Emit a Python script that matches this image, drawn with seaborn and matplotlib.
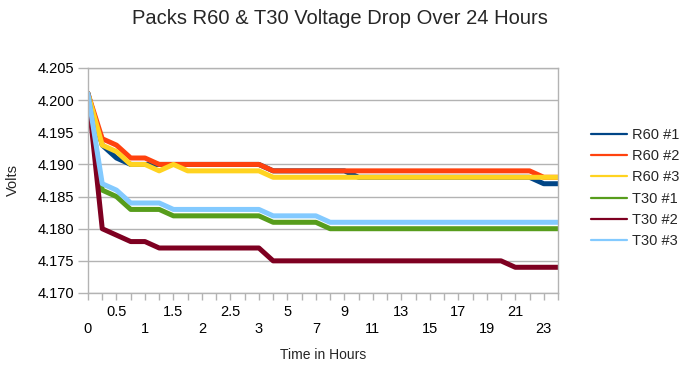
"""Packs R60 & T30 voltage drop over 24 hours -- line chart recreation."""

import matplotlib

matplotlib.use("Agg")
import matplotlib.pyplot as plt
import pandas as pd
import seaborn as sns

# Data ---------------------------------------------------------------------- #
hours = ["0", "0.25", "0.5", "0.75", "1", "1.25", "1.5", "1.75", "2", "2.25",
         "2.5", "2.75", "3"] + [str(h) for h in range(4, 25)]

r60_1 = [4.201, 4.193, 4.191] + [4.190] * 10 + [4.189] * 6 + [4.188] * 13 + [4.187] * 2
r60_2 = [4.201, 4.194, 4.193, 4.191, 4.191] + [4.190] * 8 + [4.189] * 19 + [4.188] * 2
r60_3 = ([4.201, 4.193, 4.192, 4.190, 4.190, 4.189, 4.190] + [4.189] * 6
         + [4.188] * 21)
t30_1 = [4.201, 4.186, 4.185, 4.183, 4.183, 4.183] + [4.182] * 7 + [4.181] * 4 + [4.180] * 17
t30_2 = [4.201, 4.180, 4.179, 4.178, 4.178] + [4.177] * 8 + [4.175] * 17 + [4.174] * 4
t30_3 = [4.201, 4.187, 4.186, 4.184, 4.184, 4.184] + [4.183] * 7 + [4.182] * 4 + [4.181] * 17

series = {
    "R60 #1": r60_1,
    "R60 #2": r60_2,
    "R60 #3": r60_3,
    "T30 #1": t30_1,
    "T30 #2": t30_2,
    "T30 #3": t30_3,
}
colors = ["#004586", "#ff420e", "#ffd320", "#579d1c", "#7e0021", "#83caff"]

df = pd.DataFrame(series)
df["pos"] = range(len(hours))
long = df.melt(id_vars="pos", var_name="pack", value_name="volts")

# Style --------------------------------------------------------------------- #
sns.set_theme(style="whitegrid")
plt.rcParams["font.family"] = ["Liberation Sans", "DejaVu Sans"]

fig = plt.figure(figsize=(6.93, 3.70), dpi=100)
ax = fig.add_axes([88 / 693, 1 - 293 / 370, 470 / 693, 225 / 370])

sns.lineplot(data=long, x="pos", y="volts", hue="pack", palette=colors,
             linewidth=3.6, ax=ax, legend=False, solid_joinstyle="round",
             solid_capstyle="round")

ax.set_xlim(0, len(hours) - 1)
ax.set_ylim(4.170, 4.205)
ax.set_yticks([4.170, 4.175, 4.180, 4.185, 4.190, 4.195, 4.200, 4.205])
ax.set_yticklabels([f"{v:.3f}" for v in ax.get_yticks()], fontsize=10.5)

# every category gets a tick mark, every other one a staggered label
major = list(range(0, len(hours), 2))
ax.set_xticks(major)
ax.set_xticks(range(len(hours)), minor=True)
ax.set_xticklabels([("\n" if k % 2 == 0 else "") + hours[p]
                    for k, p in enumerate(major)], fontsize=10.5)

grey = "#b3b3b3"
ax.grid(False, axis="x")
ax.grid(True, axis="y", color=grey, linewidth=1)
for side, sp in ax.spines.items():
    sp.set_color(grey)
    sp.set_linewidth(1)
ax.tick_params(axis="x", which="both", bottom=True, length=5, width=1,
               color=grey, pad=4, labelcolor="black")
ax.tick_params(axis="y", left=True, length=7, width=1, color=grey, pad=3,
               labelcolor="black")

ax.set_xlabel("Time in Hours", fontsize=10)
ax.set_ylabel("Volts", fontsize=10.5)
ax.xaxis.set_label_coords(0.5, -0.245)
ax.yaxis.set_label_coords(-0.145, 0.5)

fig.text(340 / 693, 1 - 19 / 370, "Packs R60 & T30 Voltage Drop Over 24 Hours",
         ha="center", va="center", fontsize=14.5)

handles = [plt.Line2D([], [], color=c, linewidth=1.6) for c in colors]
fig.legend(handles, list(series), loc="center left",
           bbox_to_anchor=(591 / 693, 1 - 188 / 370), frameon=False,
           fontsize=10.5, handlelength=2.5, handletextpad=0.3,
           labelspacing=0.5, borderpad=0, borderaxespad=0)

fig.savefig("out.png", dpi=100)
